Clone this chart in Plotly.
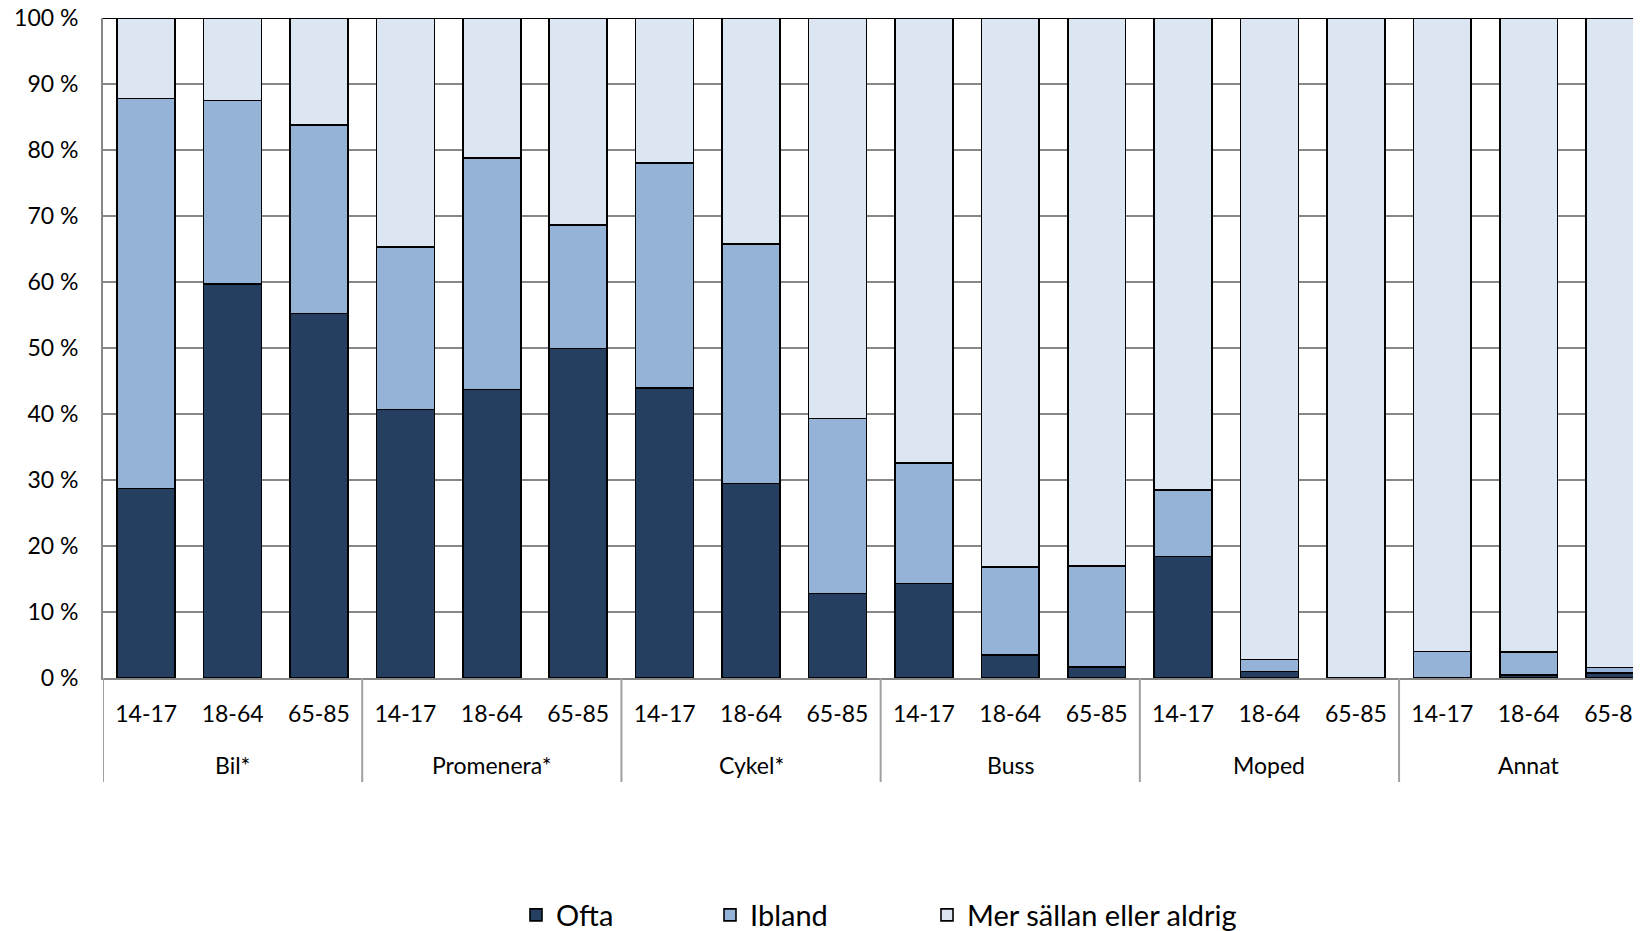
import plotly.graph_objects as go

groups = ["Bil*", "Promenera*", "Cykel*", "Buss", "Moped", "Annat"]
ages = ["14-17", "18-64", "65-85"]

ofta = [28.7, 59.7, 55.2, 40.7, 43.7, 49.9, 43.9, 29.5, 12.8, 14.3, 3.5, 1.7, 18.4, 1.0, 0.0, 0.0, 0.45, 0.75]
ibland = [59.1, 27.8, 28.6, 24.6, 35.1, 18.7, 34.1, 36.3, 26.5, 18.3, 13.3, 15.3, 10.1, 1.8, 0.0, 4.0, 3.45, 0.85]
mer = [round(100 - a - b, 2) for a, b in zip(ofta, ibland)]

series_names = ["Ofta", "Ibland", "Mer sällan eller aldrig"]
series_colors = ["#253F60", "#95B3D7", "#DCE6F2"]

n_age = len(ages)
positions = list(range(len(groups) * n_age))
tick_text = [a for _ in groups for a in ages]

# page has an 8px body margin; geometry below in page pixels
OFF = 8
PAGE_W, PAGE_H = 1641, 931
W, H = PAGE_W - OFF, PAGE_H - OFF
PLOT_L, PLOT_T, PLOT_B = 103, 18, 678
ML, MT, MB = PLOT_L - OFF, PLOT_T - OFF, PAGE_H - PLOT_B
PW = PAGE_W - PLOT_L
PH = PLOT_B - PLOT_T

def px_x(p):
    return (p - PLOT_L) / PW

def px_y(p):
    return (PLOT_B - p) / PH

legend_ids = ["legend", "legend2", "legend3"]
legend_left_px = [516, 710, 927]

fig = go.Figure()
for name, vals, col, lid in zip(series_names, [ofta, ibland, mer], series_colors, legend_ids):
    fig.add_trace(go.Bar(
        x=positions, y=vals, name=name, legend=lid,
        marker=dict(color=col, line=dict(color="#000000", width=1.6)),
    ))

legend_common = dict(orientation="h", y=px_y(915), yanchor="middle", xanchor="left",
                     font=dict(size=29, family="Lato", color="#000000"),
                     bgcolor="rgba(0,0,0,0)", borderwidth=0)

layout_legends = {}
for lid, lx in zip(legend_ids, legend_left_px):
    layout_legends[lid] = dict(legend_common, x=px_x(lx))

fig.update_layout(
    barmode="stack",
    bargap=0.33,
    width=W, height=H,
    margin=dict(l=ML, r=0, t=MT, b=MB, autoexpand=False),
    plot_bgcolor="white", paper_bgcolor="white",
    font=dict(family="Lato", size=23, color="#000000"),
    showlegend=True,
    yaxis=dict(range=[0, 100], tickvals=list(range(0, 101, 10)),
               ticktext=[f"{v} %" for v in range(0, 101, 10)],
               showgrid=True, gridcolor="#878787", gridwidth=1.6,
               showline=True, linecolor="#878787", linewidth=2,
               ticks="outside", ticklen=18, tickcolor="rgba(0,0,0,0)",
               ticklabeloverflow="allow",
               zeroline=False, automargin=False),
    xaxis=dict(range=[-0.5, 17.3], tickvals=positions, ticktext=tick_text,
               showgrid=False, zeroline=False,
               showline=True, linecolor="#878787", linewidth=2,
               ticks="outside", ticklen=14, tickcolor="rgba(0,0,0,0)",
               ticklabeloverflow="allow",
               automargin=False),
    **layout_legends,
)

# top border line
fig.add_shape(type="line", xref="paper", yref="y", x0=0, x1=1, y0=100, y1=100,
              line=dict(color="#000000", width=2))

# group dividers and group labels
div_bottom = px_y(782)
for gi, g in enumerate(groups):
    left = gi * n_age - 0.5
    fig.add_shape(type="line", xref="x", yref="paper", x0=left, x1=left,
                  y0=0, y1=div_bottom, line=dict(color="#A0A0A0", width=2))
    fig.add_annotation(x=gi * n_age + (n_age - 1) / 2, y=px_y(765), xref="x", yref="paper",
                       text=g, showarrow=False, font=dict(size=23), yanchor="middle")
last = len(groups) * n_age - 0.5
fig.add_shape(type="line", xref="x", yref="paper", x0=last, x1=last,
              y0=0, y1=div_bottom, line=dict(color="#A0A0A0", width=2))

fig.write_html("out.html")
